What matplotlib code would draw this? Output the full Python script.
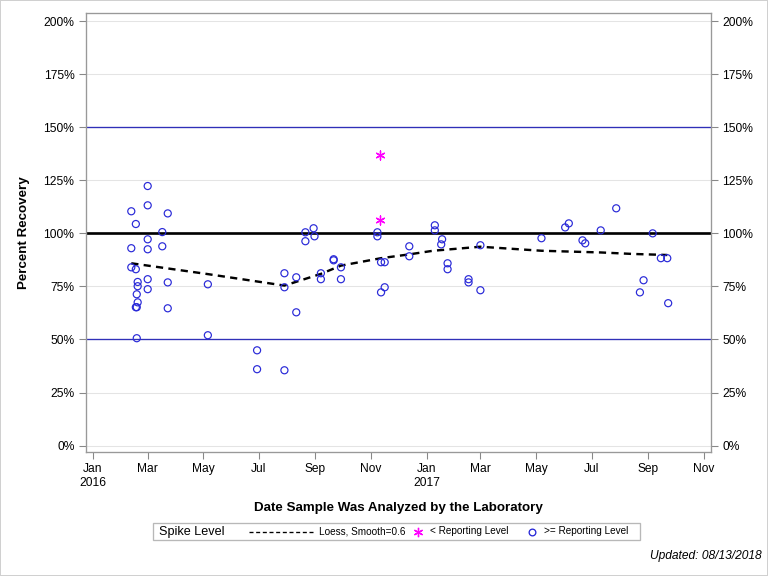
import numpy as np
import pandas as pd
import matplotlib
matplotlib.use('Agg')
import matplotlib.pyplot as plt
import matplotlib.dates as mdates
from matplotlib.lines import Line2D

plt.rcParams['font.family'] = ['Liberation Sans', 'DejaVu Sans']

# points at or above the reporting level
dates_ok = ['2016-02-12', '2016-02-12', '2016-02-12', '2016-02-17', '2016-02-17', '2016-02-17',
            '2016-02-19', '2016-02-19', '2016-02-18', '2016-02-19', '2016-02-18', '2016-02-18',
            '2016-03-01', '2016-03-01', '2016-03-01', '2016-03-01', '2016-03-01', '2016-03-01',
            '2016-03-17', '2016-03-17', '2016-03-23', '2016-03-23', '2016-03-23',
            '2016-05-06', '2016-05-06', '2016-06-29', '2016-06-29',
            '2016-07-29', '2016-07-29', '2016-07-29', '2016-08-11', '2016-08-11',
            '2016-08-21', '2016-08-21', '2016-08-30', '2016-08-31', '2016-09-07', '2016-09-07',
            '2016-09-21', '2016-09-21', '2016-09-29', '2016-09-29',
            '2016-11-08', '2016-11-08', '2016-11-12', '2016-11-16', '2016-11-12', '2016-11-16',
            '2016-12-13', '2016-12-13', '2017-01-10', '2017-01-10', '2017-01-18', '2017-01-17',
            '2017-01-24', '2017-01-24', '2017-02-16', '2017-02-16', '2017-03-01', '2017-03-01',
            '2017-05-07', '2017-06-02', '2017-06-06', '2017-06-21', '2017-06-24', '2017-07-11',
            '2017-07-28', '2017-08-23', '2017-08-27', '2017-09-06', '2017-09-15', '2017-09-22',
            '2017-09-23']
pct_ok = [110.4, 93.0, 84.0, 104.4, 83.1, 65.2,
          77.1, 75.1, 71.3, 67.5, 50.6, 65.2,
          122.3, 113.2, 97.2, 92.5, 78.4, 73.7,
          100.6, 93.9, 109.4, 76.9, 64.7,
          76.0, 52.0, 44.9, 36.0,
          81.2, 74.6, 35.5, 79.3, 62.8,
          100.5, 96.3, 102.4, 98.6, 81.2, 78.4,
          87.8, 87.3, 84.0, 78.4,
          100.5, 98.6, 86.4, 86.4, 72.2, 74.6,
          93.9, 89.2, 103.8, 101.4, 97.2, 94.8,
          85.9, 83.1, 78.4, 76.9, 94.4, 73.2,
          97.7, 102.8, 104.7, 96.7, 95.3, 101.4,
          111.8, 72.2, 77.9, 100.0, 88.3, 88.3,
          67.1]

# points below the reporting level
dates_low = ['2016-11-11', '2016-11-11']
pct_low = [136.8, 106.1]

# loess fit
loess_dates = ['2016-02-12', '2016-05-06', '2016-07-29', '2016-09-07', '2016-09-29', '2016-11-12',
               '2016-12-13', '2017-01-08', '2017-03-01', '2017-05-07', '2017-07-11', '2017-08-15',
               '2017-09-22']
loess_pct = [85.9, 80.8, 75.4, 80.9, 84.8, 88.3, 90.1, 91.8, 93.7, 91.8, 91.0, 90.3, 89.8]

yticks = [0, 25, 50, 75, 100, 125, 150, 175, 200]

W, H = 768, 576
fig = plt.figure(figsize=(8, 6), dpi=96)
fig.patch.set_facecolor('white')
fig.patches.append(plt.Rectangle((0, 0), 1, 1, transform=fig.transFigure, fill=False,
                                 edgecolor='#d0d0d0', linewidth=1.5))
ax = fig.add_axes([0.1116, 0.2153, 0.8142, 0.7621])

blue = '#3030b8'
circ = '#2a2ad8'
mag = '#ff00ff'
for y in yticks:
    ax.axhline(y, color='#e4e4e4', lw=0.8, zorder=0)
ax.axhline(150, color=blue, lw=1.0, zorder=1)
ax.axhline(50, color=blue, lw=1.0, zorder=1)
ax.axhline(100, color='black', lw=2.0, zorder=1)

d_ok = pd.to_datetime(dates_ok)
d_low = pd.to_datetime(dates_low)
d_loess = pd.to_datetime(loess_dates)

ax.plot(d_loess, loess_pct, color='black', lw=1.8, ls=(0, (3, 2.2)), zorder=3)
ax.scatter(d_ok, pct_ok, s=28, facecolors='none', edgecolors=circ, linewidths=0.9, zorder=4)
ax.scatter(d_low, pct_low, s=45, marker=(6, 2, 0), color=mag, linewidths=1.0, zorder=4)

ax.set_xlim(pd.Timestamp('2015-12-24'), pd.Timestamp('2017-11-09'))
ax.set_ylim(-3, 203.8)
ax.set_yticks(yticks)
ax.set_yticklabels([f'{v}%' for v in yticks])

ax.xaxis.set_major_locator(mdates.MonthLocator(bymonth=[1, 3, 5, 7, 9, 11]))
def fmt(x, pos):
    d = mdates.num2date(x)
    return d.strftime('%b') + ('\n' + d.strftime('%Y') if d.month == 1 else '')
ax.xaxis.set_major_formatter(plt.FuncFormatter(fmt))

ax.tick_params(axis='both', colors='#888888', labelcolor='black', labelsize=9, length=5, width=0.8)
ax.tick_params(axis='y', right=True, labelright=True)
for s in ax.spines.values():
    s.set_color('#999999')
    s.set_linewidth(1.0)

ax.set_ylabel('Percent Recovery', fontsize=10, fontweight='bold', labelpad=10)
ax.set_xlabel('Date Sample Was Analyzed by the Laboratory', fontsize=10, fontweight='bold', labelpad=10)

# legend drawn by hand in pixel positions, title sits on the same row
def fx(px):
    return px / W
def fy(py):
    return 1 - py / H
ly = fy(531.5)
fig.patches.append(plt.Rectangle((fx(153), fy(540)), fx(640) - fx(153), fy(523) - fy(540),
                                 transform=fig.transFigure, fill=False, edgecolor='#b8b8b8', lw=1.0))
fig.text(fx(159), ly, 'Spike Level', fontsize=9.5, va='center', ha='left')
fig.add_artist(Line2D([fx(249), fx(313)], [ly, ly], transform=fig.transFigure,
                      color='black', lw=1.0, ls=(0, (3, 2))))
fig.text(fx(319), ly, 'Loess, Smooth=0.6', fontsize=7.5, va='center', ha='left')
fig.add_artist(Line2D([fx(418)], [ly], transform=fig.transFigure, color=mag,
                      marker=(6, 2, 0), markersize=7, ls='none'))
fig.text(fx(430), ly, '< Reporting Level', fontsize=7.5, va='center', ha='left')
fig.add_artist(Line2D([fx(532)], [ly], transform=fig.transFigure, color=circ,
                      marker='o', mfc='none', markersize=5, ls='none'))
fig.text(fx(544), ly, '>= Reporting Level', fontsize=7.5, va='center', ha='left')

fig.text(fx(762), fy(556), 'Updated: 08/13/2018', ha='right', va='center', fontsize=9, style='italic')

fig.savefig('out.png', dpi=96)
